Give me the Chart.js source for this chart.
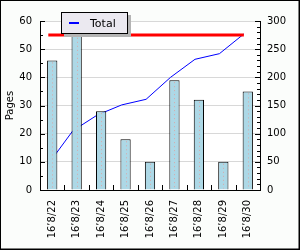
<!DOCTYPE html>
<html>
<head>
<meta charset="utf-8">
<script src="https://cdn.jsdelivr.net/npm/chart.js@4.4.1/dist/chart.umd.min.js"></script>
<style>
  html, body { margin: 0; padding: 0; background: #fff; }
  canvas { display: block; }
</style>
</head>
<body>
<canvas id="myChart" width="300" height="250"></canvas>
<script>
// data
const days = ["16’8/22", "16’8/23", "16’8/24", "16’8/25", "16’8/26", "16’8/27", "16’8/28", "16’8/29", "16’8/30"];
const pages = [46, 59, 28, 18, 10, 39, 32, 10, 35];
const total = [46, 105, 133, 151, 161, 200, 232, 242, 277];
const target = [55, 55, 55, 55, 55, 55, 55, 55, 55];
const leftTicks = [0, 10, 20, 30, 40, 50, 60];
const rightTicks = [0, 50, 100, 150, 200, 250, 300];

const font = { family: "'DejaVu Sans', sans-serif", size: 10 };

// the line series sit a little left of the bar centres in the original
const lineShift = 0.16;
const asPoints = arr => arr.map((v, i) => ({ x: i, y: v }));

// frame + plot background
const framePlugin = {
    id: "frame",
    beforeDraw(chart) {
        const ctx = chart.ctx;
        const a = chart.chartArea;
        ctx.save();
        ctx.fillStyle = "#fbfdfb";
        ctx.fillRect(0, 0, chart.width, chart.height);
        ctx.fillStyle = "#ffffff";
        ctx.fillRect(a.left, a.top, a.right - a.left, a.bottom - a.top);
        ctx.restore();
    },
    afterDraw(chart) {
        const ctx = chart.ctx;
        ctx.save();
        ctx.strokeStyle = "#000";
        ctx.lineWidth = 1;
        ctx.strokeRect(0.5, 0.5, chart.width - 1.5, chart.height - 1.5);
        ctx.beginPath();
        ctx.moveTo(chart.width - 0.5, 0);
        ctx.lineTo(chart.width - 0.5, chart.height);
        ctx.moveTo(0, chart.height - 0.5);
        ctx.lineTo(chart.width, chart.height - 0.5);
        ctx.stroke();
        ctx.restore();
    }
};

// small inward tick marks on all three axes
const tickPlugin = {
    id: "inwardTicks",
    afterDraw(chart) {
        const ctx = chart.ctx;
        const a = chart.chartArea;
        const y = chart.scales.y, y2 = chart.scales.y2, x = chart.scales.x;
        ctx.save();
        ctx.strokeStyle = "#000";
        ctx.lineWidth = 1;
        ctx.beginPath();
        for (let v = 0; v <= 60; v += 5) {
            const p = Math.round(y.getPixelForValue(v)) + 0.5;
            ctx.moveTo(a.left, p);
            ctx.lineTo(a.left + (v % 10 === 0 ? 5 : 3), p);
        }
        for (let v = 0; v <= 300; v += 10) {
            const p = Math.round(y2.getPixelForValue(v)) + 0.5;
            ctx.moveTo(a.right, p);
            ctx.lineTo(a.right - (v % 50 === 0 ? 5 : 3), p);
        }
        for (let i = 1; i < days.length; i++) {
            const p = Math.round((x.getPixelForValue(i - 1) + x.getPixelForValue(i)) / 2) + 0.5;
            ctx.moveTo(p, a.bottom);
            ctx.lineTo(p, a.bottom - 5);
        }
        ctx.stroke();
        ctx.restore();
    }
};

// dotted line down the middle of each bar
const barDotsPlugin = {
    id: "barDots",
    afterDatasetDraw(chart, args) {
        if (chart.data.datasets[args.index].type !== "bar") return;
        const ctx = chart.ctx;
        ctx.save();
        ctx.strokeStyle = "#d8a8a8";
        ctx.lineWidth = 1;
        ctx.setLineDash([1, 3]);
        args.meta.data.forEach(bar => {
            const px = Math.round(bar.x) + 0.5;
            ctx.beginPath();
            ctx.moveTo(px, bar.y + 2);
            ctx.lineTo(px, bar.base - 1);
            ctx.stroke();
        });
        ctx.restore();
    }
};

// boxed legend with shadow, top left of the plot
const legendPlugin = {
    id: "boxLegend",
    afterDraw(chart) {
        const ctx = chart.ctx;
        const items = chart.data.datasets.filter(d => d.label);
        const bx = 61, by = 12, bw = 67, bh = 22;
        ctx.save();
        ctx.fillStyle = "#b4b4b4";
        ctx.fillRect(bx + 3, by + 3, bw, bh);
        ctx.fillStyle = "#ebe9f0";
        ctx.fillRect(bx, by, bw, bh);
        ctx.strokeStyle = "#000";
        ctx.lineWidth = 1;
        ctx.strokeRect(bx + 0.5, by + 0.5, bw - 1, bh - 1);
        items.forEach((d, i) => {
            const cy = by + 11 + i * 14;
            ctx.strokeStyle = d.borderColor;
            ctx.lineWidth = 2;
            ctx.beginPath();
            ctx.moveTo(bx + 8, cy);
            ctx.lineTo(bx + 18, cy);
            ctx.stroke();
            ctx.fillStyle = "#000";
            ctx.font = "11px 'DejaVu Sans', sans-serif";
            ctx.textBaseline = "middle";
            ctx.fillText(d.label, bx + 29, cy + 1);
        });
        ctx.restore();
    }
};

new Chart(document.getElementById("myChart"), {
    data: {
        labels: days,
        datasets: [
            {
                type: "line",
                label: "",
                data: asPoints(target),
                xAxisID: "xl",
                yAxisID: "y",
                borderColor: "#ff0000",
                borderWidth: 3,
                pointRadius: 0,
                order: 1
            },
            {
                type: "bar",
                label: "",
                data: pages,
                xAxisID: "x",
                yAxisID: "y",
                backgroundColor: "#add8e6",
                borderColor: "#000",
                borderWidth: 1,
                grouped: false,
                categoryPercentage: 1,
                barPercentage: 0.42,
                order: 2
            },
            {
                type: "line",
                label: "Total",
                data: asPoints(total),
                xAxisID: "xl",
                yAxisID: "y2",
                borderColor: "#0000ff",
                borderWidth: 1,
                pointRadius: 0,
                tension: 0,
                order: 3
            }
        ]
    },
    options: {
        responsive: false,
        animation: false,
        events: [],
        layout: { padding: { top: 21, left: 0, right: 0, bottom: 0 } },
        plugins: {
            legend: { display: false },
            tooltip: { enabled: false }
        },
        scales: {
            x: {
                type: "category",
                offset: true,
                grid: { display: false, drawTicks: false },
                border: { display: true, color: "#000", width: 1 },
                ticks: {
                    color: "#000", font: font, padding: 10,
                    minRotation: 90, maxRotation: 90, autoSkip: false
                },
                afterFit(s) { s.height = 60; }
            },
            xl: {
                type: "linear",
                display: false,
                min: -0.5 + lineShift,
                max: days.length - 0.5 + lineShift
            },
            y: {
                position: "left",
                min: 0, max: 60,
                afterBuildTicks(s) { s.ticks = leftTicks.map(v => ({ value: v })); },
                grid: { color: "#d8d8d8", drawTicks: false },
                border: { display: true, color: "#000", width: 1 },
                ticks: { color: "#000", font: font, padding: 8 },
                title: {
                    display: true, text: "Pages", color: "#000",
                    font: font, padding: { top: 4, bottom: 0 }
                },
                afterFit(s) { s.width = 40; }
            },
            y2: {
                position: "right",
                min: 0, max: 300,
                afterBuildTicks(s) { s.ticks = rightTicks.map(v => ({ value: v })); },
                grid: { display: false, drawTicks: false },
                border: { display: true, color: "#000", width: 1 },
                ticks: { color: "#000", font: font, padding: 7 },
                afterFit(s) { s.width = 40; }
            }
        }
    },
    plugins: [framePlugin, tickPlugin, barDotsPlugin, legendPlugin]
});
</script>
</body>
</html>
